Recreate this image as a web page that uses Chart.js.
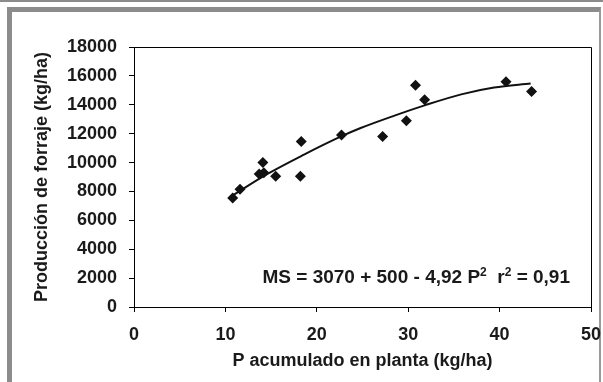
<!DOCTYPE html>
<html>
<head>
<meta charset="utf-8">
<script src="https://cdn.jsdelivr.net/npm/chart.js@4"></script>
<style>
  html, body { margin: 0; padding: 0; background: #ffffff; }
  body { width: 603px; height: 382px; position: relative; overflow: hidden; }
  #topline { position: absolute; left: 0; top: 0; width: 603px; height: 2px; background: #8c8c8c; }
  #frame { position: absolute; left: 7px; top: 7px; width: 587px; height: 400px;
           border-left: 5px solid #8c8c8c; border-top: 5px solid #8c8c8c; border-right: 2px solid #9a9a9a; }
  #wrap { position: absolute; left: 0; top: 0; width: 603px; height: 382px; }
</style>
</head>
<body>
<div id="topline"></div>
<div id="frame"></div>
<div id="wrap"><canvas id="c" width="603" height="382"></canvas></div>
<script>
// Observed points (P acumulado, producción de forraje)
const obsP = [10.8, 11.6, 13.7, 14.2, 14.1, 15.5, 18.2, 18.3, 22.7, 27.2, 29.8, 30.8, 31.8, 40.7, 43.5];
const obsMS = [7550, 8150, 9200, 9300, 10000, 9050, 9050, 11450, 11900, 11800, 12900, 15350, 14350, 15600, 14920];

// Trend line
const trendP = [10.6, 14.6, 18.6, 22.6, 24.8, 28.5, 31.8, 35.8, 39.4, 43.4];
const trendMS = [7640, 9210, 10550, 11790, 12390, 13250, 13960, 14720, 15190, 15470];

const xTicks = [0, 10, 20, 30, 40, 50];
const yTicks = [0, 2000, 4000, 6000, 8000, 10000, 12000, 14000, 16000, 18000];

const xTitle = 'P acumulado en planta (kg/ha)';
const yTitle = 'Producción de forraje (kg/ha)';
// equation pieces: [text, isSuperscript]
const equationParts = [['MS = 3070 + 500 - 4,92 P', false], ['2', true], ['  r', false], ['2', true], [' = 0,91', false]];

const FONT = '"Liberation Sans", Arial, sans-serif';
const INK = '#1a1a1a';

const framePlugin = {
  id: 'framePlugin',
  afterDraw(chart) {
    const { ctx, chartArea: a } = chart;
    ctx.save();
    ctx.strokeStyle = '#000';
    ctx.lineWidth = 1;
    ctx.beginPath();
    ctx.moveTo(a.left, a.top + 0.5);
    ctx.lineTo(a.right + 0.5, a.top + 0.5);
    ctx.lineTo(a.right + 0.5, a.bottom);
    ctx.stroke();
    // equation
    const mainFont = 'bold 19px ' + FONT;
    const supFont = 'bold 12px ' + FONT;
    let total = 0;
    const widths = equationParts.map(([t, sup]) => {
      ctx.font = sup ? supFont : mainFont;
      const w = ctx.measureText(t).width;
      total += w;
      return w;
    });
    let x = a.right - 21 - total;
    const base = a.top + 236;
    ctx.fillStyle = INK;
    ctx.textAlign = 'left';
    ctx.textBaseline = 'alphabetic';
    equationParts.forEach(([t, sup], i) => {
      ctx.font = sup ? supFont : mainFont;
      ctx.fillText(t, x, sup ? base - 7 : base);
      x += widths[i];
    });
    ctx.restore();
  }
};

new Chart(document.getElementById('c'), {
  type: 'scatter',
  data: {
    datasets: [
      {
        data: obsP.map((p, i) => ({ x: p, y: obsMS[i] })),
        pointStyle: 'rectRot',
        pointRadius: 5.5,
        pointBackgroundColor: '#111',
        pointBorderColor: '#111',
        pointBorderWidth: 0,
        showLine: false,
        order: 1
      },
      {
        data: trendP.map((p, i) => ({ x: p, y: trendMS[i] })),
        showLine: true,
        borderColor: '#111',
        borderWidth: 2,
        pointRadius: 0,
        cubicInterpolationMode: 'monotone',
        order: 2
      }
    ]
  },
  options: {
    responsive: false,
    animation: false,
    events: [],
    layout: { padding: { left: 31, right: 12, top: 47, bottom: 10 } },
    plugins: {
      legend: { display: false },
      tooltip: { enabled: false },
      title: { display: false }
    },
    scales: {
      x: {
        type: 'linear',
        min: 0, max: 50,
        afterFit(s) { s.height = 65; s.paddingLeft = 0; s.paddingRight = 0; },
        afterBuildTicks(s) { s.ticks = xTicks.map(v => ({ value: v })); },
        grid: { drawOnChartArea: false, drawTicks: true, tickLength: 5, color: '#000', tickColor: '#000' },
        border: { display: true, color: '#000', width: 1 },
        ticks: { padding: 12, color: INK, font: { family: FONT, size: 18, weight: 'bold' }, maxRotation: 0,
                 callback: v => String(v) },
        title: {
          display: true,
          text: xTitle,
          color: INK,
          font: { family: FONT, size: 18, weight: 'bold' },
          padding: { top: 0, bottom: 0 }
        }
      },
      y: {
        type: 'linear',
        min: 0, max: 18000,
        afterFit(s) { s.width = 103; },
        afterBuildTicks(s) { s.ticks = yTicks.map(v => ({ value: v })); },
        grid: { drawOnChartArea: false, drawTicks: true, tickLength: 5, color: '#000', tickColor: '#000' },
        border: { display: true, color: '#000', width: 1 },
        ticks: { padding: 12, color: INK, font: { family: FONT, size: 18, weight: 'bold' },
                 callback: v => String(v) },
        title: {
          display: true,
          text: yTitle,
          color: INK,
          font: { family: FONT, size: 18, weight: 'bold' },
          padding: { top: 0, bottom: 0 }
        }
      }
    }
  },
  plugins: [framePlugin]
});
</script>
</body>
</html>
